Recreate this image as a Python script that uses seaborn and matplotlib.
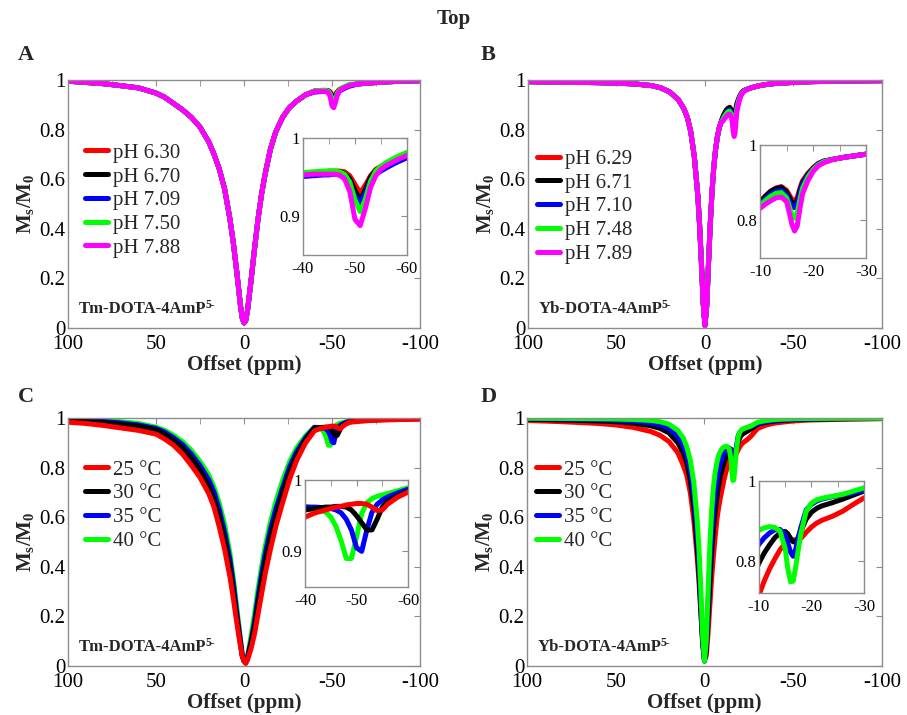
import numpy as np
import pandas as pd
import matplotlib
matplotlib.use('Agg')
import matplotlib.pyplot as plt
import seaborn as sns

# ---------------- data ----------------
# Tm-DOTA-4AmP offsets: water part, CEST part (-40..-60), tail
tm_x_water = [100, 90, 80, 70, 60, 50, 45, 40, 35, 30, 25, 20, 17, 14, 11, 8, 6, 4, 2, 1,
              0, -1, -2, -4, -6, -8, -10, -12, -15, -18, -22, -26, -30, -35]
tm_x_cest = [-40, -42, -44, -45, -46, -47, -48, -49, -50, -51, -52, -53, -54, -55, -56, -58, -60]
tm_x_tail = [-65, -70, -80, -90, -100]

# panel A (pH series, shared water curve)
a_water = [0.995, 0.99, 0.985, 0.977, 0.968, 0.947, 0.93, 0.905, 0.88, 0.85, 0.81, 0.75, 0.70,
           0.64, 0.56, 0.44, 0.34, 0.22, 0.09, 0.04, 0.02, 0.03, 0.07, 0.19, 0.32, 0.44, 0.54,
           0.62, 0.72, 0.79, 0.85, 0.89, 0.915, 0.94]
a_tail = [0.984, 0.987, 0.992, 0.995, 0.997]
a_labels = ['pH 6.30', 'pH 6.70', 'pH 7.09', 'pH 7.50', 'pH 7.88']
a_cest = {
    'pH 6.30': [0.955, 0.956, 0.957, 0.958, 0.958, 0.958, 0.957, 0.952, 0.941, 0.930, 0.940,
                0.952, 0.960, 0.964, 0.967, 0.973, 0.979],
    'pH 6.70': [0.955, 0.956, 0.957, 0.957, 0.957, 0.957, 0.955, 0.948, 0.933, 0.921, 0.934,
                0.950, 0.959, 0.963, 0.967, 0.973, 0.979],
    'pH 7.09': [0.951, 0.952, 0.953, 0.953, 0.954, 0.953, 0.950, 0.942, 0.926, 0.917, 0.930,
                0.946, 0.954, 0.958, 0.962, 0.969, 0.975],
    'pH 7.50': [0.956, 0.957, 0.958, 0.958, 0.958, 0.957, 0.954, 0.944, 0.921, 0.906, 0.922,
                0.945, 0.958, 0.964, 0.969, 0.976, 0.982],
    'pH 7.88': [0.953, 0.954, 0.954, 0.954, 0.954, 0.953, 0.948, 0.932, 0.896, 0.888, 0.910,
                0.937, 0.952, 0.960, 0.965, 0.972, 0.978],
}

# panel C (temperature series)
c_labels = ['25 °C', '30 °C', '35 °C', '40 °C']
c_water = {
    '25 °C': [0.983, 0.978, 0.97, 0.96, 0.95, 0.935, 0.915, 0.89, 0.855, 0.81, 0.76, 0.695,
              0.64, 0.56, 0.47, 0.36, 0.27, 0.17, 0.08, 0.04, 0.02, 0.01, 0.025, 0.07, 0.13,
              0.21, 0.29, 0.37, 0.47, 0.56, 0.66, 0.755, 0.83, 0.9],
    '30 °C': [0.99, 0.986, 0.982, 0.975, 0.967, 0.952, 0.935, 0.91, 0.88, 0.84, 0.79, 0.725,
              0.67, 0.60, 0.51, 0.40, 0.30, 0.19, 0.09, 0.04, 0.02, 0.015, 0.03, 0.09, 0.16,
              0.25, 0.34, 0.42, 0.52, 0.60, 0.70, 0.785, 0.85, 0.912],
    '35 °C': [0.993, 0.99, 0.986, 0.98, 0.972, 0.958, 0.943, 0.92, 0.893, 0.855, 0.808, 0.75,
              0.70, 0.63, 0.54, 0.43, 0.33, 0.21, 0.10, 0.045, 0.02, 0.02, 0.035, 0.10, 0.18,
              0.28, 0.37, 0.45, 0.55, 0.63, 0.72, 0.805, 0.865, 0.92],
    '40 °C': [0.995, 0.993, 0.99, 0.985, 0.978, 0.963, 0.95, 0.93, 0.905, 0.87, 0.825, 0.77,
              0.72, 0.655, 0.57, 0.455, 0.35, 0.23, 0.11, 0.05, 0.02, 0.02, 0.04, 0.12, 0.21,
              0.31, 0.40, 0.48, 0.58, 0.66, 0.75, 0.825, 0.88, 0.928],
}
c_cest = {
    '25 °C': [0.948, 0.954, 0.958, 0.960, 0.962, 0.963, 0.965, 0.966, 0.967, 0.967, 0.966,
              0.962, 0.957, 0.958, 0.966, 0.976, 0.983],
    '30 °C': [0.958, 0.960, 0.962, 0.962, 0.963, 0.963, 0.962, 0.958, 0.950, 0.940, 0.930,
              0.930, 0.945, 0.962, 0.970, 0.978, 0.984],
    '35 °C': [0.962, 0.962, 0.961, 0.960, 0.958, 0.954, 0.945, 0.930, 0.905, 0.900, 0.930,
              0.955, 0.966, 0.972, 0.976, 0.982, 0.987],
    '40 °C': [0.963, 0.960, 0.955, 0.948, 0.935, 0.915, 0.890, 0.890, 0.920, 0.953, 0.968,
              0.974, 0.977, 0.979, 0.981, 0.985, 0.989],
}
c_tail = {
    '25 °C': [0.986, 0.989, 0.992, 0.994, 0.995],
    '30 °C': [0.989, 0.991, 0.994, 0.996, 0.997],
    '35 °C': [0.991, 0.993, 0.995, 0.997, 0.998],
    '40 °C': [0.992, 0.994, 0.996, 0.997, 0.998],
}

# Yb-DOTA-4AmP offsets
yb_x_water = [100, 80, 60, 50, 40, 30, 25, 20, 15, 12, 10, 8, 6, 4, 3, 2, 1, 0,
              -1, -2, -3, -4, -5, -6, -7, -8, -9]
yb_x_cest = [-10, -11, -12, -13, -14, -15, -15.5, -16, -16.5, -17, -17.5, -18, -19, -20, -21, -22]
yb_x_tail = [-24, -26, -28, -30, -35, -40, -50, -60, -80, -100]

# panel B (pH series)
b_labels = ['pH 6.29', 'pH 6.71', 'pH 7.10', 'pH 7.48', 'pH 7.89']
b_water = [0.993, 0.991, 0.989, 0.987, 0.984, 0.977, 0.968, 0.952, 0.92, 0.885, 0.85, 0.79,
           0.69, 0.53, 0.41, 0.26, 0.10, 0.01, 0.09, 0.26, 0.42, 0.55, 0.65, 0.72, 0.77,
           0.805, 0.828]
b_cest = {
    'pH 6.29': [0.850, 0.865, 0.878, 0.886, 0.890, 0.880, 0.868, 0.856, 0.852, 0.860, 0.885,
                0.905, 0.925, 0.940, 0.952, 0.958],
    'pH 6.71': [0.848, 0.864, 0.877, 0.885, 0.888, 0.876, 0.862, 0.848, 0.843, 0.852, 0.878,
                0.900, 0.922, 0.938, 0.950, 0.957],
    'pH 7.10': [0.843, 0.858, 0.870, 0.878, 0.880, 0.868, 0.852, 0.838, 0.834, 0.845, 0.872,
                0.896, 0.920, 0.937, 0.950, 0.957],
    'pH 7.48': [0.840, 0.853, 0.864, 0.872, 0.874, 0.860, 0.838, 0.815, 0.806, 0.820, 0.855,
                0.885, 0.915, 0.935, 0.948, 0.956],
    'pH 7.89': [0.832, 0.843, 0.852, 0.860, 0.862, 0.850, 0.822, 0.790, 0.772, 0.785, 0.830,
                0.870, 0.905, 0.930, 0.945, 0.953],
}
b_tail = [0.963, 0.968, 0.972, 0.976, 0.982, 0.986, 0.990, 0.993, 0.996, 0.997]

# panel D (temperature series), full curves on the Yb grid
d_labels = ['25 °C', '30 °C', '35 °C', '40 °C']
d_vals = {
    '25 °C': [0.99, 0.985, 0.978, 0.972, 0.962, 0.945, 0.93, 0.905, 0.86, 0.81, 0.77, 0.70,
              0.59, 0.43, 0.33, 0.21, 0.09, 0.03, 0.04, 0.13, 0.24, 0.35, 0.44, 0.52, 0.59,
              0.64, 0.68, 0.715, 0.75, 0.78, 0.805, 0.828, 0.845, 0.85, 0.853, 0.853, 0.852,
              0.852, 0.857, 0.872, 0.885, 0.895, 0.902, 0.912, 0.925, 0.942, 0.958, 0.972,
              0.98, 0.988, 0.992, 0.995, 0.997],
    '30 °C': [0.995, 0.992, 0.988, 0.985, 0.979, 0.968, 0.958, 0.94, 0.90, 0.86, 0.82, 0.75,
              0.64, 0.47, 0.36, 0.22, 0.09, 0.02, 0.06, 0.19, 0.33, 0.45, 0.55, 0.62, 0.68,
              0.73, 0.765, 0.795, 0.82, 0.84, 0.858, 0.87, 0.874, 0.868, 0.857, 0.848, 0.848,
              0.86, 0.875, 0.905, 0.922, 0.932, 0.938, 0.946, 0.955, 0.965, 0.975, 0.983,
              0.988, 0.993, 0.995, 0.997, 0.998],
    '35 °C': [0.997, 0.995, 0.993, 0.991, 0.987, 0.98, 0.972, 0.958, 0.925, 0.89, 0.85, 0.79,
              0.69, 0.52, 0.40, 0.25, 0.10, 0.02, 0.08, 0.24, 0.40, 0.53, 0.63, 0.70, 0.75,
              0.79, 0.82, 0.842, 0.858, 0.87, 0.878, 0.879, 0.865, 0.845, 0.822, 0.812, 0.83,
              0.86, 0.885, 0.928, 0.942, 0.95, 0.955, 0.961, 0.966, 0.971, 0.977, 0.985,
              0.99, 0.994, 0.996, 0.998, 0.998],
    '40 °C': [0.999, 0.998, 0.997, 0.996, 0.994, 0.99, 0.985, 0.975, 0.95, 0.92, 0.885, 0.83,
              0.74, 0.58, 0.46, 0.30, 0.12, 0.02, 0.10, 0.30, 0.48, 0.62, 0.72, 0.78, 0.82,
              0.85, 0.865, 0.877, 0.883, 0.886, 0.884, 0.875, 0.83, 0.78, 0.748, 0.75, 0.785,
              0.83, 0.87, 0.925, 0.945, 0.953, 0.957, 0.962, 0.967, 0.975, 0.983, 0.99,
              0.994, 0.997, 0.998, 0.999, 0.999],
}

colors_ph = ['#ff0000', '#000000', '#0000ff', '#00ff00', '#ff00ff']
colors_t = ['#ff0000', '#000000', '#0000ff', '#00ff00']

# ---------------- style ----------------
sns.set_style('white')
plt.rcParams['font.family'] = 'serif'
plt.rcParams['font.serif'] = ['Liberation Serif', 'DejaVu Serif']
plt.rcParams['mathtext.fontset'] = 'custom'
plt.rcParams['mathtext.rm'] = 'Liberation Serif'
plt.rcParams['mathtext.it'] = 'Liberation Serif:italic'
plt.rcParams['mathtext.bf'] = 'Liberation Serif:bold'
plt.rcParams['axes.unicode_minus'] = False

GREY = '#8c8c8c'
LW = 3.6

fig = plt.figure(figsize=(9.07, 7.15), dpi=100)
fig.text(0.5, 1 - 19 / 715, 'Top', ha='center', va='center', fontsize=15, fontweight='bold')

main_pos = {'A': [0.075, 0.5413, 0.388, 0.3469], 'B': [0.5821, 0.5413, 0.3903, 0.3469],
            'C': [0.075, 0.0685, 0.388, 0.3469], 'D': [0.581, 0.0685, 0.3914, 0.3469]}
inset_pos = {'A': [0.334, 0.643, 0.1147, 0.1636], 'B': [0.838, 0.639, 0.1169, 0.158],
             'C': [0.3363, 0.179, 0.1136, 0.1497], 'D': [0.8368, 0.1706, 0.1158, 0.1566]}
letter_xy = {'A': (26, 55), 'B': (488, 55), 'C': (26, 397), 'D': (489, 397)}


def style_ax(ax, size):
    for s in ax.spines.values():
        s.set_color(GREY)
        s.set_linewidth(1.0)
    ax.tick_params(which='both', direction='in', top=True, right=True, color=GREY,
                   labelsize=size, labelcolor='black')
    ax.tick_params(which='major', length=4)
    ax.tick_params(which='minor', length=4)
    ax.set_xlabel('')
    ax.set_ylabel('')


def draw(ax, series, labels, colors, order):
    for i in order:
        xs, ys = series[labels[i]]
        sns.lineplot(x=xs, y=ys, color=colors[i], lw=LW, sort=False, estimator=None,
                     label=labels[i], ax=ax, legend=False)


def main_axes(key, series, labels, colors, order, compound, leg_anchor, minor25):
    ax = fig.add_axes(main_pos[key])
    draw(ax, series, labels, colors, order)
    ax.set_xlim(100, -100)
    ax.set_ylim(0, 1)
    style_ax(ax, 15)
    ax.set_xticks([100, 50, 0, -50, -100])
    ax.set_xticklabels(['100', '50', '0', '-50', '-100'])
    if minor25:
        ax.set_xticks([75, 25, -25, -75], minor=True)
    ax.set_yticks([0, 0.2, 0.4, 0.6, 0.8, 1])
    ax.set_yticklabels(['0', '0.2', '0.4', '0.6', '0.8', '1'])
    ax.tick_params(axis='x', pad=5)
    ax.tick_params(axis='y', pad=2)
    ax.set_xlabel('Offset (ppm)', fontsize=15, fontweight='bold', labelpad=1)
    ax.set_ylabel(r'$\mathbf{M_s/M_0}$', fontsize=15, labelpad=2)
    lines = {l.get_label(): l for l in ax.get_lines()}
    ax.legend([lines[l] for l in labels], labels, loc='upper left', bbox_to_anchor=leg_anchor,
              frameon=False, fontsize=15, handlelength=1.1, handletextpad=0.25,
              labelspacing=0.2, borderaxespad=0, borderpad=0)
    t = ax.text(0.03, 0.075, compound, transform=ax.transAxes, fontsize=12,
                fontweight='bold', ha='left', va='center')
    ax.annotate('5-', xy=(1.0, 0.42), xycoords=t, xytext=(-0.5, 0), textcoords='offset points',
                fontsize=8.5, fontweight='bold', ha='left', va='bottom')
    lx, ly = letter_xy[key]
    fig.text(lx / 907, 1 - ly / 715, key, fontsize=16, fontweight='bold', ha='center', va='center')
    return ax


def inset_axes(key, series, labels, colors, order, xlim, ylim, xmaj, xmin, ymaj):
    ax = fig.add_axes(inset_pos[key])
    draw(ax, series, labels, colors, order)
    ax.set_xlim(*xlim)
    ax.set_ylim(*ylim)
    style_ax(ax, 12)
    ax.set_xticks(xmaj)
    ax.set_xticklabels([str(v) for v in xmaj])
    ax.set_xticks(xmin, minor=True)
    ax.set_yticks(ymaj)
    ax.set_yticklabels(['%g' % v for v in ymaj])
    ax.tick_params(axis='x', pad=4)
    ax.tick_params(axis='y', pad=2)
    return ax


# assemble series
tm_x = tm_x_water + tm_x_cest + tm_x_tail
yb_x = yb_x_water + yb_x_cest + yb_x_tail
a_series = {l: (tm_x, a_water + a_cest[l] + a_tail) for l in a_labels}
c_series = {l: (tm_x, c_water[l] + c_cest[l] + c_tail[l]) for l in c_labels}
b_series = {l: (yb_x, b_water + b_cest[l] + b_tail) for l in b_labels}
d_series = {l: (yb_x, d_vals[l]) for l in d_labels}

main_axes('A', a_series, a_labels, colors_ph, [0, 1, 2, 3, 4], 'Tm-DOTA-4AmP', (0.048, 0.745), True)
inset_axes('A', a_series, a_labels, colors_ph, [0, 1, 2, 3, 4], (-40, -60), (0.85, 1.0),
           [-40, -50, -60], [-45, -55], [0.9, 1])

main_axes('B', b_series, b_labels, colors_ph, [0, 1, 2, 3, 4], 'Yb-DOTA-4AmP', (0.025, 0.72), False)
inset_axes('B', b_series, b_labels, colors_ph, [0, 1, 2, 3, 4], (-10, -30), (0.7, 1.0),
           [-10, -20, -30], [-15, -25], [0.8, 1])

main_axes('C', c_series, c_labels, colors_t, [3, 2, 1, 0], 'Tm-DOTA-4AmP', (0.048, 0.83), True)
inset_axes('C', c_series, c_labels, colors_t, [3, 2, 1, 0], (-40, -60), (0.85, 1.0),
           [-40, -50, -60], [-45, -55], [0.9, 1])

main_axes('D', d_series, d_labels, colors_t, [0, 1, 2, 3], 'Yb-DOTA-4AmP', (0.025, 0.83), False)
inset_axes('D', d_series, d_labels, colors_t, [0, 1, 2, 3], (-10, -30), (0.72, 1.0),
           [-10, -20, -30], [-15, -25], [0.8, 1])

fig.savefig('out.png', dpi=100)
